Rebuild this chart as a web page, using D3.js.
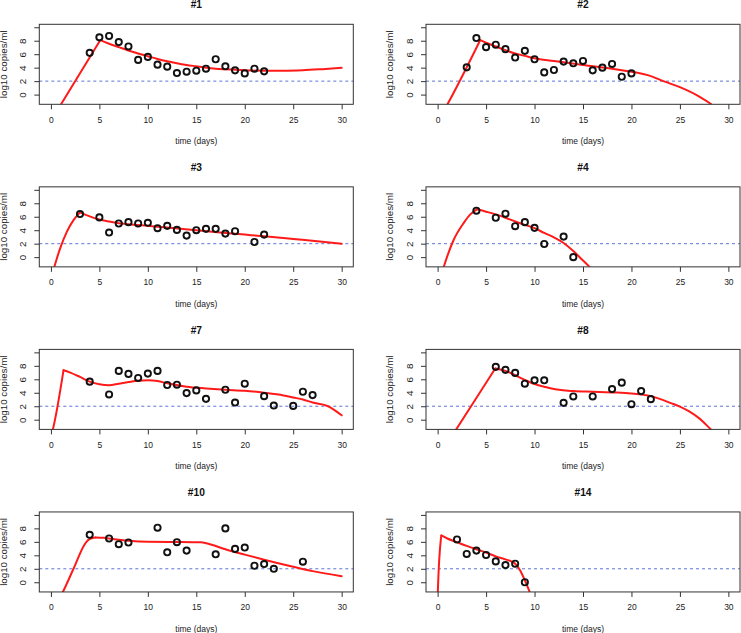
<!DOCTYPE html>
<html>
<head>
<meta charset="utf-8">
<script src="https://cdn.jsdelivr.net/npm/d3@7"></script>
<style>
  body { margin: 0; background: #fff; }
  svg { display: block; font-family: "Liberation Sans", Arial, Helvetica, sans-serif; }
</style>
</head>
<body>
<div id="chart"></div>
<script>
// panel titles, in reading order
const panelNames = ["#1", "#2", "#3", "#4", "#7", "#8", "#10", "#14"];

// observed viral loads (day, log10 copies/ml)
const obsDays1 = [4, 5, 6, 7, 8, 9, 10, 11, 12, 13, 14, 15, 16, 17, 18, 19, 20, 21, 22];
const obsLog1 = [6.2, 8.5, 8.7, 7.8, 7.15, 5.15, 5.6, 4.45, 4.15, 3.2, 3.4, 3.55, 3.85, 5.25, 4.2, 3.6, 3.15, 3.85, 3.45];
const obsDays2 = [3, 4, 5, 6, 7, 8, 9, 10, 11, 12, 13, 14, 15, 16, 17, 18, 19, 20];
const obsLog2 = [4.05, 8.4, 7.05, 7.4, 6.75, 5.5, 6.5, 5.25, 3.3, 3.65, 4.9, 4.65, 5.0, 3.6, 4.0, 4.55, 2.65, 3.15];
const obsDays3 = [3, 5, 6, 7, 8, 9, 10, 11, 12, 13, 14, 15, 16, 17, 18, 19, 21, 22];
const obsLog3 = [6.4, 5.9, 3.65, 5.0, 5.2, 5.0, 5.1, 4.3, 4.65, 4.05, 3.2, 4.0, 4.2, 4.2, 3.5, 3.85, 2.25, 3.35];
const obsDays4 = [4, 6, 7, 8, 9, 10, 11, 13, 14];
const obsLog4 = [6.9, 5.85, 6.45, 4.6, 5.2, 4.35, 1.95, 3.05, 0.0];
const obsDays7 = [4, 6, 7, 8, 9, 10, 11, 12, 13, 14, 15, 16, 18, 19, 20, 22, 23, 25, 26, 27];
const obsLog7 = [5.65, 3.75, 7.25, 6.8, 6.2, 6.85, 7.25, 5.15, 5.2, 3.95, 4.35, 3.1, 4.45, 2.55, 5.35, 3.5, 2.1, 2.05, 4.15, 3.65];
const obsDays8 = [6, 7, 8, 9, 10, 11, 13, 14, 16, 18, 19, 20, 21, 22];
const obsLog8 = [7.85, 7.4, 6.95, 5.35, 5.85, 5.85, 2.5, 3.45, 3.45, 4.55, 5.5, 2.3, 4.25, 3.05];
const obsDays10 = [4, 6, 7, 8, 11, 12, 13, 14, 17, 18, 19, 20, 21, 22, 23, 26];
const obsLog10 = [7.05, 6.5, 5.65, 5.9, 8.1, 4.45, 5.95, 4.7, 4.15, 8.0, 4.95, 5.15, 2.45, 2.7, 2.0, 3.05];
const obsDays14 = [2, 3, 4, 5, 6, 7, 8, 9];
const obsLog14 = [6.35, 4.2, 4.7, 4.05, 3.1, 2.55, 2.75, 0.0];

// fitted model curves (day, log10 copies/ml)
const fitDays1 = [0.6, 1.06, 5.1, 6, 7, 8, 9, 10, 11, 12, 13, 14, 15, 16, 17, 18, 20, 22, 24, 26, 28, 30];
const fitLog1 = [-2.5, -1.4, 8.1, 7.55, 7.05, 6.55, 6.1, 5.7, 5.3, 4.95, 4.65, 4.4, 4.2, 4.0, 3.85, 3.75, 3.6, 3.55, 3.55, 3.62, 3.78, 3.97];
const fitDays2 = [0.6, 1.03, 4.4, 5, 6, 7, 8, 9, 10, 12, 15, 18, 20, 22, 23.3, 25, 27, 28.2, 28.6];
const fitLog2 = [-2.5, -1.4, 8.1, 7.7, 7.15, 6.6, 6.1, 5.75, 5.4, 5.0, 4.4, 3.85, 3.4, 2.75, 2.0, 1.1, -0.3, -1.4, -1.9];
const fitDays3 = [0.2, 0.34, 0.96, 1.65, 2.33, 3.0, 4, 5, 6, 7, 8, 10, 12, 15, 18, 20, 22, 25, 28, 30];
const fitLog3 = [-2.2, -1.5, 1.35, 3.8, 5.5, 6.65, 6.05, 5.6, 5.3, 5.05, 4.9, 4.65, 4.4, 4.0, 3.6, 3.35, 3.1, 2.7, 2.3, 2.0];
const fitDays4 = [0.45, 0.62, 1.65, 2.68, 3.37, 4.05, 5, 6, 7, 8, 9, 10, 11, 12, 13, 14, 15, 15.7, 16];
const fitLog4 = [-2.3, -1.5, 2.55, 5.05, 6.35, 7.1, 6.75, 6.35, 5.85, 5.3, 4.8, 4.3, 3.6, 2.95, 2.1, 0.9, -0.5, -1.5, -2.0];
const fitDays7 = [0.1, 0.2, 1.3, 2, 3, 4, 5, 6, 7, 8, 9, 10, 11, 12, 14, 16, 18, 20, 22, 24, 25, 26, 27, 28.6, 30];
const fitLog7 = [-2.0, -1.45, 7.35, 7.0, 6.35, 5.65, 5.25, 5.12, 5.35, 5.6, 5.8, 5.85, 5.75, 5.4, 4.9, 4.65, 4.45, 4.3, 4.0, 3.6, 3.3, 3.0, 2.55, 2.0, 0.65];
const fitDays8 = [1.5, 3.5, 5.95, 7, 8, 9, 10, 11, 12, 14, 16, 18, 20, 22, 23, 24, 25, 26, 27, 28.2, 28.6];
const fitLog8 = [-2.37, 2.1, 7.6, 7.25, 6.6, 5.9, 5.3, 4.9, 4.55, 4.25, 4.15, 4.05, 3.9, 3.5, 3.05, 2.5, 1.95, 1.2, 0.2, -1.45, -2.0];
const fitDays10 = [1.0, 1.23, 2.33, 3.6, 4.1, 4.6, 5.5, 6, 8, 10, 13, 15.5, 16.5, 18, 20, 22, 25, 27, 30];
const fitLog10 = [-2.1, -1.45, 2.0, 5.9, 6.5, 6.65, 6.6, 6.5, 6.15, 6.0, 5.98, 5.93, 5.6, 4.9, 4.1, 3.35, 2.3, 1.65, 0.9];
const fitDays14 = [0.0, 0.02, 0.38, 1, 2, 3, 4, 5, 6, 7, 7.6, 8, 8.5, 9, 9.5, 9.7];
const fitLog14 = [-2.5, -1.5, 6.95, 6.5, 5.95, 5.4, 4.9, 4.4, 3.85, 3.4, 3.1, 2.75, 1.8, 0.3, -1.45, -2.2];

// axis ticks and reference level
const xTicks = [0, 5, 10, 15, 20, 25, 30];
const yTicks = [0, 2, 4, 6, 8, 10];
const yTickLabels = ["0", "2", "4", "6", "8", ""];
const detectionLimit = 2;

const obsDays = [obsDays1, obsDays2, obsDays3, obsDays4, obsDays7, obsDays8, obsDays10, obsDays14];
const obsLog = [obsLog1, obsLog2, obsLog3, obsLog4, obsLog7, obsLog8, obsLog10, obsLog14];
const fitDays = [fitDays1, fitDays2, fitDays3, fitDays4, fitDays7, fitDays8, fitDays10, fitDays14];
const fitLog = [fitLog1, fitLog2, fitLog3, fitLog4, fitLog7, fitLog8, fitLog10, fitLog14];

const WIDTH = 741;
const HEIGHT = 633;
const BOX = { W: 314, H: 80 };
const COL_LEFT = [39.3, 426];
const ROW_TOP = 24.3;
const ROW_STEP = 162.55;
const STRETCH = 1.15; // rotated text is a bit taller in the reference

const svg = d3.select("#chart")
  .append("svg")
    .attr("width", WIDTH)
    .attr("height", HEIGHT);

const x = d3.scaleLinear().domain([-1.2, 31.2]).range([0, BOX.W]);
const y = d3.scaleLinear().domain([-1.44, 10.44]).range([BOX.H, 0]);

// smooth on each side of the peak, keep the kink at the peak itself
const line = d3.line()
  .x(d => x(d[0]))
  .y(d => y(d[1]))
  .curve(d3.curveMonotoneX);

panelNames.forEach((name, i) => {
  const col = i % 2;
  const row = Math.floor(i / 2);
  const g = svg.append("g")
    .attr("transform", `translate(${COL_LEFT[col]}, ${ROW_TOP + row * ROW_STEP})`);

  const clipId = `clip${i}`;
  g.append("clipPath")
    .attr("id", clipId)
    .append("rect")
      .attr("width", BOX.W)
      .attr("height", BOX.H);

  // title
  g.append("text")
    .attr("x", BOX.W / 2)
    .attr("y", -19.4)
    .attr("dominant-baseline", "central")
    .attr("text-anchor", "middle")
    .attr("font-size", 10.2)
    .attr("font-weight", "bold")
    .attr("fill", "#111")
    .text(name);

  // x axis
  const xAxisGroup = g.append("g")
    .attr("transform", `translate(0, ${BOX.H})`)
    .call(d3.axisBottom(x).tickValues(xTicks).tickSize(5).tickPadding(7.2));
  xAxisGroup.select(".domain").remove();
  xAxisGroup.selectAll("line").attr("stroke", "#333");
  xAxisGroup.selectAll("text")
    .attr("font-size", 8.5)
    .attr("fill", "#222")
    .attr("font-family", null);

  g.append("text")
    .attr("x", BOX.W / 2)
    .attr("y", BOX.H + 36.7)
    .attr("dominant-baseline", "central")
    .attr("text-anchor", "middle")
    .attr("font-size", 8.5)
    .attr("fill", "#222")
    .text("time (days)");

  // y axis, labels rotated like base R
  const yAxisGroup = g.append("g")
    .call(d3.axisLeft(y).tickValues(yTicks).tickSize(5)
      .tickFormat((d, k) => yTickLabels[k]));
  yAxisGroup.select(".domain").remove();
  yAxisGroup.selectAll("line").attr("stroke", "#333");
  yAxisGroup.selectAll("text")
    .attr("x", null)
    .attr("dy", null)
    .attr("font-family", null)
    .attr("font-size", 8.5)
    .attr("fill", "#222")
    .attr("text-anchor", "middle")
    .attr("dominant-baseline", "central")
    .attr("transform", `translate(-16, 0) rotate(-90) scale(${STRETCH}, 1)`);

  g.append("text")
    .attr("transform", `translate(-35.5, ${BOX.H / 2}) rotate(-90) scale(${STRETCH}, 1)`)
    .attr("dominant-baseline", "central")
    .attr("text-anchor", "middle")
    .attr("font-size", 8.5)
    .attr("fill", "#222")
    .text("log10 copies/ml");

  const plot = g.append("g").attr("clip-path", `url(#${clipId})`);

  // limit of detection
  plot.append("line")
    .attr("x1", 0)
    .attr("x2", BOX.W)
    .attr("y1", y(detectionLimit))
    .attr("y2", y(detectionLimit))
    .attr("stroke", "#5b74d6")
    .attr("stroke-width", 1)
    .attr("stroke-dasharray", "3,3");

  // fitted curve, drawn as rise + decline so the peak stays sharp
  const pts = d3.zip(fitDays[i], fitLog[i]);
  const peak = d3.maxIndex(fitLog[i]);
  [pts.slice(0, peak + 1), pts.slice(peak)].forEach(seg => {
    plot.append("path")
      .datum(seg)
      .attr("d", line)
      .attr("fill", "none")
      .attr("stroke", "#ff1a1a")
      .attr("stroke-width", 2)
      .attr("stroke-linejoin", "round")
      .attr("stroke-linecap", "round");
  });

  // observations
  g.selectAll("circle.obs")
    .data(d3.zip(obsDays[i], obsLog[i]))
    .enter()
    .append("circle")
      .attr("class", "obs")
      .attr("cx", d => x(d[0]))
      .attr("cy", d => y(d[1]))
      .attr("r", 3.1)
      .attr("fill", "none")
      .attr("stroke", "#111")
      .attr("stroke-width", 1.9);

  // plot frame
  g.append("rect")
    .attr("width", BOX.W)
    .attr("height", BOX.H)
    .attr("fill", "none")
    .attr("stroke", "#333")
    .attr("stroke-width", 1);
});
</script>
</body>
</html>
